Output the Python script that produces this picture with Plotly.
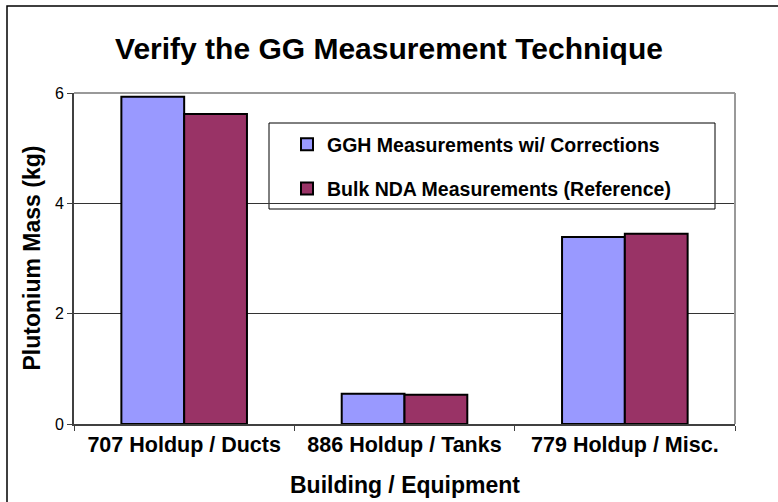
import plotly.graph_objects as go

categories = ["707 Holdup / Ducts", "886 Holdup / Tanks", "779 Holdup / Misc."]
ggh_values = [5.93, 0.55, 3.39]
nda_values = [5.62, 0.53, 3.45]
series_names = ["GGH Measurements wi/ Corrections", "Bulk NDA Measurements (Reference)"]
y_ticks = [0, 2, 4, 6]

FONT = "Liberation Sans, Arial, sans-serif"

fig = go.Figure()
fig.add_trace(go.Bar(x=categories, y=ggh_values, name="<b>" + series_names[0] + "</b>", legendgroup="a",
                     marker=dict(color="#9999FF", line=dict(color="black", width=2))))
fig.add_trace(go.Bar(x=categories, y=nda_values, name="<b>" + series_names[1] + "</b>", legendgroup="b",
                     marker=dict(color="#993366", line=dict(color="black", width=2))))

W, H = 778, 502
L, R, T, B = 74, 43, 93, 78
pw, ph = W - L - R, H - T - B

def px_x(p):
    return (p - L) / pw

def px_y(p):
    return (H - B - p) / ph

fig.update_layout(
    width=W, height=H,
    margin=dict(l=L, r=R, t=T, b=B),
    paper_bgcolor="white", plot_bgcolor="white",
    barmode="group", bargap=0.43, bargroupgap=0,
    font=dict(family=FONT, color="black"),
    title=dict(text="<b>Verify the GG Measurement Technique</b>", x=0.5, xanchor="center",
               y=1 - 48 / H, yanchor="middle", font=dict(size=30, family=FONT)),
    showlegend=True,
    legend=dict(x=px_x(287), y=px_y(125), xanchor="left", yanchor="top",
                bgcolor="rgba(0,0,0,0)", borderwidth=0,
                font=dict(size=19.5, family=FONT), tracegroupgap=16,
                traceorder="grouped"),
    xaxis=dict(type="category", showline=True, linecolor="#404040", linewidth=2,
               ticks="outside", ticklen=5, tickcolor="#404040", tickson="boundaries",
               tickfont=dict(size=21.5, family=FONT), showgrid=False, zeroline=False,
               tickprefix="<b>", ticksuffix="</b>"),
    yaxis=dict(range=[0, 6], tickvals=y_ticks, showline=True, linecolor="#404040", linewidth=2,
               ticks="outside", ticklen=5, tickcolor="#404040",
               tickfont=dict(size=16, family=FONT), showgrid=True, gridcolor="#333333",
               gridwidth=1, zeroline=False),
    shapes=[
        dict(type="rect", xref="paper", yref="paper", x0=px_x(269), x1=px_x(715),
             y0=px_y(209), y1=px_y(123), line=dict(color="black", width=1),
             fillcolor="white", layer="below"),
        dict(type="line", xref="paper", yref="paper", x0=0, x1=1, y0=1, y1=1,
             line=dict(color="#999999", width=2)),
        dict(type="line", xref="paper", yref="paper", x0=1, x1=1, y0=0, y1=1,
             line=dict(color="#999999", width=2)),
        dict(type="rect", xref="paper", yref="paper", x0=px_x(7), x1=px_x(800),
             y0=px_y(520), y1=px_y(6), line=dict(color="black", width=1.5),
             fillcolor="rgba(0,0,0,0)"),
    ],
    annotations=[
        dict(text="<b>Plutonium Mass (kg)</b>", xref="paper", yref="paper",
             x=px_x(31), y=0.5, textangle=-90, showarrow=False,
             xanchor="center", yanchor="middle", font=dict(size=23, family=FONT)),
        dict(text="<b>Building / Equipment</b>", xref="paper", yref="paper",
             x=0.5, y=px_y(485), showarrow=False,
             xanchor="center", yanchor="middle", font=dict(size=23, family=FONT)),
    ],
)

fig.write_html("out.html", config={"displayModeBar": False},
               post_script="document.body.style.margin='0';document.body.style.padding='0';")
